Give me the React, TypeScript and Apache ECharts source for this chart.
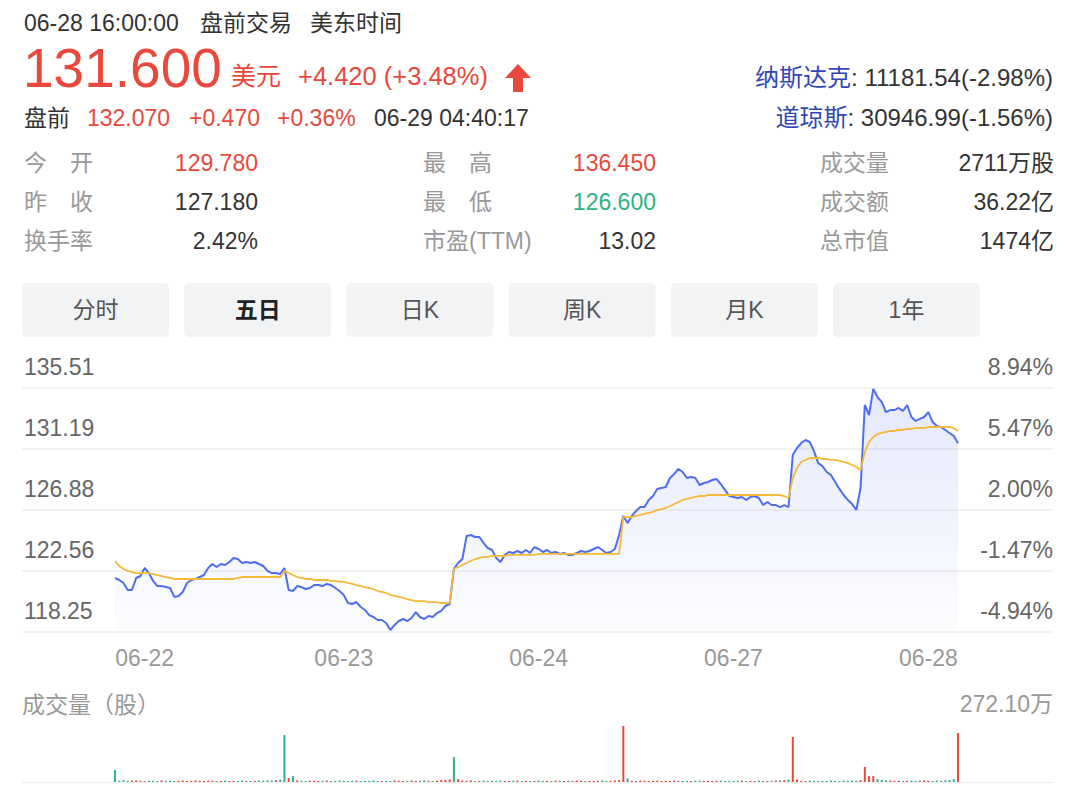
import React, { useEffect, useRef } from 'react';
import * as echarts from 'echarts';

// ---------- data ----------
const days = ['06-22', '06-23', '06-24', '06-27', '06-28'];
const xLabelIdx = [7, 54, 100, 146, 192];
const yLeftLabels = ['118.25', '122.56', '126.88', '131.19', '135.51'];
const yRightLabels = ['-4.94%', '-1.47%', '2.00%', '5.47%', '8.94%'];
const yMin = 118.25;
const yMax = 135.51;
const refPrice = 124.39;
const volMax = 272.1;
const volMaxLabel = '272.10万';
const volTitle = '成交量（股）';

const priceD1 = [122.07, 121.93, 121.72, 121.22, 121.22, 122.07, 122.21, 122.78, 122.42, 121.86, 121.5, 121.5, 121.43, 121.36, 120.73, 120.8, 121.08, 121.72, 121.93, 122.0, 122.14, 122.28, 122.78, 123.06, 122.85, 123.06, 122.99, 123.2, 123.49, 123.41, 123.13, 123.2, 123.13, 123.2, 123.06, 122.92, 122.57, 122.42, 122.42, 122.35];
const priceD2 = [122.78, 121.22, 121.15, 121.5, 121.43, 121.29, 121.36, 121.57, 121.57, 121.5, 121.65, 121.57, 121.36, 121.15, 120.87, 120.3, 120.23, 120.37, 120.02, 119.81, 119.45, 119.31, 119.1, 119.1, 118.89, 118.39, 118.75, 119.03, 119.17, 119.03, 119.24, 119.66, 119.31, 119.17, 119.38, 119.31, 119.59, 119.74, 120.09, 120.23];
const priceD3 = [122.71, 123.13, 123.41, 125.04, 125.11, 124.97, 124.97, 124.55, 124.19, 124.05, 123.49, 123.2, 123.7, 123.91, 123.84, 123.98, 123.84, 124.05, 123.84, 124.26, 124.12, 123.91, 124.05, 123.84, 123.91, 123.77, 123.84, 123.7, 123.7, 123.84, 123.98, 123.91, 123.98, 124.12, 124.26, 124.05, 123.84, 123.91, 124.12, 125.11];
const priceD4 = [126.46, 125.96, 126.46, 126.81, 127.09, 127.09, 127.59, 127.87, 128.37, 128.44, 128.51, 129.14, 129.43, 129.78, 129.57, 129.14, 129.21, 129.14, 128.65, 128.79, 128.86, 129.0, 129.07, 128.72, 128.3, 127.87, 127.8, 127.73, 127.8, 127.59, 127.8, 127.87, 127.73, 127.23, 127.45, 127.23, 127.23, 127.09, 127.23, 127.09];
const priceD5 = [130.77, 131.27, 131.62, 131.83, 131.69, 131.05, 130.2, 129.99, 129.57, 129.36, 128.86, 128.37, 127.94, 127.59, 127.3, 126.88, 128.44, 134.31, 133.6, 135.45, 134.87, 134.52, 133.81, 133.95, 133.95, 134.1, 133.88, 134.31, 133.46, 133.18, 133.32, 133.46, 133.81, 133.11, 132.82, 132.75, 132.54, 132.33, 132.11, 131.6];

const avgD1 = [123.27, 122.92, 122.71, 122.57, 122.49, 122.42, 122.42, 122.42, 122.42, 122.35, 122.28, 122.21, 122.14, 122.07, 122.0, 122.0, 122.0, 122.0, 122.0, 122.0, 122.0, 122.0, 122.0, 122.0, 122.0, 122.0, 122.0, 122.0, 122.0, 122.07, 122.14, 122.14, 122.14, 122.14, 122.14, 122.14, 122.14, 122.14, 122.14, 122.14];
const avgD2 = [122.57, 122.42, 122.28, 122.14, 122.07, 122.0, 122.0, 121.93, 121.93, 121.93, 121.93, 121.86, 121.86, 121.79, 121.79, 121.72, 121.65, 121.57, 121.5, 121.43, 121.36, 121.29, 121.15, 121.08, 121.01, 120.87, 120.8, 120.73, 120.66, 120.58, 120.51, 120.44, 120.44, 120.44, 120.37, 120.37, 120.37, 120.3, 120.3, 120.3];
const avgD3 = [122.71, 122.85, 122.99, 123.13, 123.27, 123.41, 123.49, 123.56, 123.56, 123.63, 123.63, 123.63, 123.63, 123.7, 123.7, 123.7, 123.7, 123.7, 123.7, 123.7, 123.77, 123.77, 123.77, 123.77, 123.77, 123.77, 123.77, 123.77, 123.77, 123.77, 123.77, 123.77, 123.77, 123.77, 123.77, 123.77, 123.77, 123.77, 123.77, 123.77];
const avgD4 = [126.38, 126.38, 126.38, 126.46, 126.53, 126.6, 126.67, 126.74, 126.88, 126.95, 127.02, 127.16, 127.3, 127.45, 127.59, 127.66, 127.73, 127.8, 127.87, 127.87, 127.94, 127.94, 127.94, 127.94, 127.94, 127.94, 127.94, 127.94, 127.94, 127.94, 127.94, 127.94, 127.94, 127.94, 127.94, 127.94, 127.94, 127.94, 127.87, 127.73];
const avgD5 = [129.14, 129.85, 130.28, 130.42, 130.56, 130.56, 130.56, 130.49, 130.49, 130.42, 130.42, 130.35, 130.28, 130.2, 130.06, 129.92, 129.71, 130.98, 131.69, 132.04, 132.26, 132.33, 132.4, 132.47, 132.47, 132.54, 132.54, 132.61, 132.61, 132.68, 132.68, 132.68, 132.75, 132.75, 132.75, 132.75, 132.75, 132.75, 132.68, 132.47];

// volume, 万股
const volD1 = [58, 6, 9, 5, 7, 8, 6, 5, 7, 6, 5, 8, 6, 7, 5, 6, 7, 5, 6, 8, 6, 5, 7, 6, 5, 6, 7, 5, 6, 5, 7, 6, 5, 6, 7, 6, 8, 7, 9, 12];
const volD2 = [228, 19, 29, 8, 6, 5, 7, 6, 5, 6, 7, 5, 6, 8, 6, 5, 6, 7, 5, 6, 5, 7, 6, 5, 6, 5, 7, 6, 5, 6, 7, 5, 6, 8, 6, 5, 7, 9, 10, 12];
const volD3 = [121, 14, 7, 6, 8, 5, 6, 7, 5, 6, 5, 7, 6, 5, 6, 7, 5, 6, 5, 6, 7, 5, 6, 5, 7, 6, 5, 6, 5, 7, 6, 5, 6, 5, 6, 7, 5, 6, 8, 9];
const volD4 = [272.1, 18, 6, 5, 7, 6, 5, 6, 7, 5, 6, 5, 7, 6, 5, 6, 5, 7, 6, 5, 6, 5, 6, 7, 5, 6, 5, 6, 7, 5, 6, 5, 7, 6, 5, 6, 7, 8, 9, 12];
const volD5 = [219, 12, 6, 5, 7, 6, 5, 6, 5, 7, 6, 5, 6, 5, 7, 6, 9, 73, 29, 29, 14, 10, 8, 7, 6, 7, 5, 6, 7, 5, 6, 8, 6, 5, 7, 6, 8, 9, 14, 238];
// bars whose colour differs from the close-to-close direction
const volDirOverride: Record<number, 'up' | 'down'> = { 0: 'down', 40: 'down', 41: 'up', 42: 'down', 80: 'down', 81: 'up', 120: 'up', 160: 'up', 177: 'up', 178: 'up', 179: 'up', 199: 'up' };

// header / stats texts
const quoteTime = '06-28 16:00:00';
const sessionName = '盘前交易';
const tzName = '美东时间';
const lastPrice = '131.600';
const currency = '美元';
const change = '+4.420 (+3.48%)';
const preLabel = '盘前';
const prePrice = '132.070';
const preChg = '+0.470';
const prePct = '+0.36%';
const preTime = '06-29 04:40:17';
const indexNames = ['纳斯达克', '道琼斯'];
const indexValues = [': 11181.54(-2.98%)', ': 30946.99(-1.56%)'];
const statLabels = [['今　开', '昨　收', '换手率'], ['最　高', '最　低', '市盈(TTM)'], ['成交量', '成交额', '总市值']];
const statValues = [['129.780', '127.180', '2.42%'], ['136.450', '126.600', '13.02'], ['2711万股', '36.22亿', '1474亿']];
const statTone = [['up', '', ''], ['up', 'down', ''], ['', '', '']];
const tabs = ['分时', '五日', '日K', '周K', '月K', '1年'];
const activeTab = 1;

// ---------- styles ----------
const FONT = '"Liberation Sans", "Noto Sans CJK SC", sans-serif';
const RED = '#e9483c';
const GREEN = '#2fb386';
const BLUE = '#4f6df0';
const AVG = '#f5b93a';
const DARK = '#333333';
const GRAY = '#999999';

function txt(text: string, x: number, y: number, o: any = {}) {
  const align = o.align || 'left';
  return {
    type: 'text',
    x,
    y,
    silent: true,
    style: {
      text,
      fill: o.color || DARK,
      fontSize: o.size || 23,
      fontFamily: FONT,
      fontWeight: o.weight || 'normal',
      align,
      textAlign: align,
      verticalAlign: 'middle',
      textVerticalAlign: 'middle',
    },
  };
}

export default function App() {
  const ref = useRef<HTMLDivElement>(null);

  useEffect(() => {
    if (!ref.current) return;
    const chart = echarts.init(ref.current, null, { renderer: 'svg' });

    const prices = [...priceD1, ...priceD2, ...priceD3, ...priceD4, ...priceD5];
    const avgs = [...avgD1, ...avgD2, ...avgD3, ...avgD4, ...avgD5];
    const vols = [...volD1, ...volD2, ...volD3, ...volD4, ...volD5];
    const perDay = priceD1.length;
    const times = days.flatMap((d) => Array.from({ length: perDay }, (_, k) => `${d} #${k + 1}`));

    const volData = vols.map((v, i) => {
      const prev = i === 0 ? refPrice : prices[i - 1];
      let dir: 'up' | 'down' = prices[i] >= prev ? 'up' : 'down';
      if (volDirOverride[i]) dir = volDirOverride[i];
      return { value: v, itemStyle: { color: dir === 'up' ? RED : GREEN } };
    });

    const graphics: any[] = [];
    // header
    graphics.push(txt(quoteTime, 24, 23));
    graphics.push(txt(sessionName, 200, 23));
    graphics.push(txt(tzName, 310, 23));
    graphics.push(txt(lastPrice, 23, 68, { size: 55, color: RED }));
    graphics.push(txt(currency, 231, 76, { size: 25, color: RED }));
    graphics.push(txt(change, 298, 76, { size: 25.5, color: RED }));
    graphics.push({
      type: 'polygon',
      silent: true,
      shape: { points: [[518, 64], [531, 78], [523, 78], [523, 92], [513, 92], [513, 78], [505, 78]] },
      style: { fill: RED },
    });
    graphics.push(txt(preLabel, 24, 118));
    graphics.push(txt(prePrice, 87, 118, { color: RED }));
    graphics.push(txt(preChg, 189, 118, { color: RED }));
    graphics.push(txt(prePct, 277, 118, { color: RED }));
    graphics.push(txt(preTime, 374, 118));
    [77, 117].forEach((y, i) => {
      graphics.push({
        type: 'text',
        x: 1053,
        y,
        silent: true,
        style: {
          text: `{a|${indexNames[i]}}{b|${indexValues[i]}}`,
          align: 'right',
          textAlign: 'right',
          verticalAlign: 'middle',
          textVerticalAlign: 'middle',
          rich: {
            a: { fill: '#3346b5', fontSize: 24, fontFamily: FONT },
            b: { fill: DARK, fontSize: 24, fontFamily: FONT },
          },
        },
      });
    });
    // stats
    const rowY = [163, 202, 241];
    const labelX = [24, 423, 820];
    const valueX = [258, 656, 1054];
    statLabels.forEach((col, c) => {
      col.forEach((lab, r) => {
        graphics.push(txt(lab, labelX[c], rowY[r], { color: GRAY }));
        const tone = statTone[c][r];
        graphics.push(txt(statValues[c][r], valueX[c], rowY[r], { align: 'right', color: tone === 'up' ? RED : tone === 'down' ? GREEN : DARK }));
      });
    });
    // tabs
    tabs.forEach((t, i) => {
      const x = 22 + i * 162.2;
      graphics.push({ type: 'rect', silent: true, shape: { x, y: 283, width: 147, height: 54, r: 5 }, style: { fill: '#f2f3f5' } });
      graphics.push(txt(t, x + 73.5, 310, { align: 'center', color: i === activeTab ? '#222222' : '#555555', weight: i === activeTab ? 'bold' : 'normal' }));
    });
    // volume panel
    graphics.push(txt(volTitle, 22, 705, { color: GRAY }));
    graphics.push(txt(volMaxLabel, 1053, 704, { align: 'right', color: GRAY }));
    graphics.push({ type: 'line', silent: true, shape: { x1: 22, y1: 782.5, x2: 1053, y2: 782.5 }, style: { stroke: '#eeeeee', lineWidth: 1.5 } });

    const option: any = {
      animation: false,
      backgroundColor: '#ffffff',
      grid: [
        { left: 22, right: 27, top: 388, height: 244 },
        { left: 115, right: 122, top: 388, height: 244 },
        { left: 115, right: 122, top: 726, height: 56 },
      ],
      xAxis: [
        { gridIndex: 0, type: 'value', min: 0, max: 1, show: false },
        {
          gridIndex: 1,
          type: 'category',
          data: times,
          boundaryGap: false,
          axisLine: { show: false },
          axisTick: { show: false },
          splitLine: { show: false },
          axisLabel: {
            interval: (i: number) => xLabelIdx.includes(i),
            formatter: (_v: string, i: number) => days[xLabelIdx.indexOf(i)] || '',
            color: GRAY,
            fontSize: 23,
            fontFamily: FONT,
            margin: 14,
          },
        },
        { gridIndex: 2, type: 'category', data: times, boundaryGap: false, show: false },
      ],
      yAxis: [
        {
          gridIndex: 0,
          type: 'value',
          min: 0,
          max: 4,
          interval: 1,
          position: 'left',
          axisLine: { show: false },
          axisTick: { show: false },
          splitLine: { show: true, lineStyle: { color: '#eeeeee', width: 1.5 } },
          axisLabel: {
            inside: true,
            margin: 2,
            formatter: (v: number) => yLeftLabels[v],
            verticalAlign: 'bottom',
            lineHeight: 23,
            padding: [0, 0, 10, 0],
            color: '#666666',
            fontSize: 23,
            fontFamily: FONT,
            showMinLabel: true,
            showMaxLabel: true,
          },
        },
        {
          gridIndex: 0,
          type: 'value',
          min: 0,
          max: 4,
          interval: 1,
          position: 'right',
          axisLine: { show: false },
          axisTick: { show: false },
          splitLine: { show: false },
          axisLabel: {
            inside: true,
            margin: 0,
            formatter: (v: number) => yRightLabels[v],
            verticalAlign: 'bottom',
            lineHeight: 23,
            padding: [0, 0, 10, 0],
            color: '#666666',
            fontSize: 23,
            fontFamily: FONT,
            showMinLabel: true,
            showMaxLabel: true,
          },
        },
        { gridIndex: 1, type: 'value', min: yMin, max: yMax, show: false },
        { gridIndex: 2, type: 'value', min: 0, max: volMax, show: false },
      ],
      series: [
        {
          name: '价格',
          type: 'line',
          xAxisIndex: 1,
          yAxisIndex: 2,
          data: prices,
          showSymbol: false,
          silent: true,
          lineStyle: { color: BLUE, width: 2 },
          areaStyle: {
            origin: 'start',
            color: new echarts.graphic.LinearGradient(0, 0, 0, 1, [
              { offset: 0, color: 'rgba(84,108,240,0.22)' },
              { offset: 1, color: 'rgba(84,108,240,0.02)' },
            ]),
          },
        },
        {
          name: '均价',
          type: 'line',
          xAxisIndex: 1,
          yAxisIndex: 2,
          data: avgs,
          showSymbol: false,
          silent: true,
          lineStyle: { color: AVG, width: 1.8 },
        },
        {
          name: '成交量',
          type: 'bar',
          xAxisIndex: 2,
          yAxisIndex: 3,
          data: volData,
          barWidth: 2,
          silent: true,
        },
      ],
      graphic: graphics,
    };

    chart.setOption(option);
    return () => chart.dispose();
  }, []);

  return <div ref={ref} style={{ position: 'absolute', left: 0, top: 0, width: 1080, height: 798, background: '#fff' }} />;
}
